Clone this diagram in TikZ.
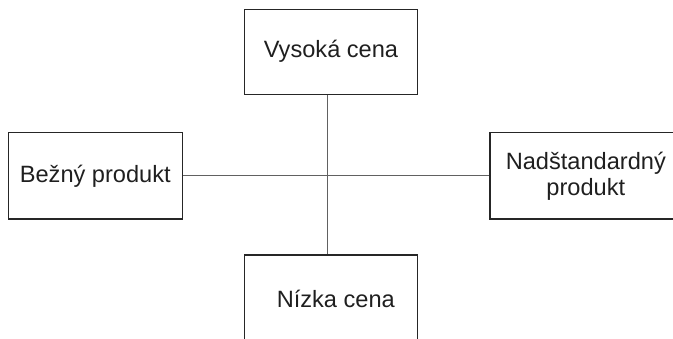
\documentclass[tikz,border=0pt]{standalone}
\usepackage{fontspec}
\setmainfont{Liberation Sans}
\begin{document}
\begin{tikzpicture}[x=1pt,y=-1pt,
  boxnode/.style={draw=black!85, line width=1.1pt, rectangle, inner sep=0pt,
    text=black!88, font=\fontsize{23.6}{26}\selectfont, align=center},
  conn/.style={draw=black!62, line width=1.1pt}]
\useasboundingbox (0,0) rectangle (673,338);
\clip (0,0) rectangle (673,338);
\node[boxnode, minimum width=173.4pt, minimum height=84.7pt] (top) at (331,51.7) {Vysoká cena};
\node[boxnode, minimum width=174pt, minimum height=86.3pt] (left) at (95.3,175.8) {Bežný produkt};
\node[boxnode, minimum width=191.6pt, minimum height=86.3pt] (right) at (585.8,175.8) {Nadštandardný\\produkt};
\node[boxnode, minimum width=173.4pt, minimum height=88pt] (bot) at (331,299) {\hspace*{9.6pt}Nízka cena};
\coordinate (c) at (327.7,175.7);
\draw[conn] (c |- top.south) -- (c |- bot.north);
\draw[conn] (left.east |- c) -- (right.west |- c);
\end{tikzpicture}
\end{document}
